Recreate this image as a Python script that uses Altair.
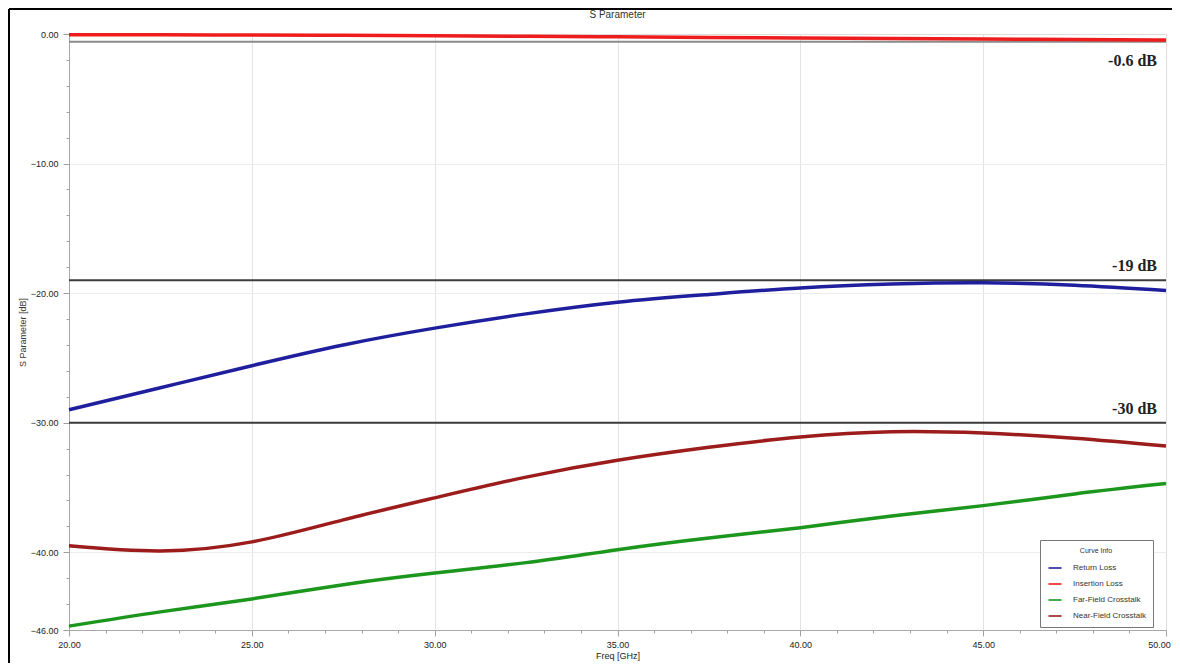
import altair as alt
import pandas as pd

# ---- data ----
freq = [20, 22.5, 25, 27.5, 30, 32.5, 35, 37.5, 40, 42.5, 45, 47.5, 50]
return_loss = [-29.0, -27.3, -25.6, -24.0, -22.7, -21.6, -20.7, -20.1, -19.6, -19.3, -19.2, -19.4, -19.8]
insertion_loss = [-0.05, -0.06, -0.08, -0.10, -0.14, -0.18, -0.22, -0.27, -0.31, -0.35, -0.39, -0.43, -0.47]
far_field = [-45.7, -44.6, -43.6, -42.5, -41.6, -40.8, -39.8, -38.9, -38.1, -37.2, -36.4, -35.5, -34.7]
near_field = [-39.5, -39.9, -39.2, -37.5, -35.8, -34.2, -32.9, -31.9, -31.1, -30.7, -30.8, -31.2, -31.8]

series_names = ["Return Loss", "Insertion Loss", "Far-Field Crosstalk", "Near-Field Crosstalk"]
series_colors = ["#1f1f9e", "#ee1c1c", "#1c961c", "#9c1c1c"]

limit_values = [-0.6, -19, -30]
limit_labels = ["-0.6 dB", "-19 dB", "-30 dB"]

chart_title = ["S Parameter"]

x_ticks = list(range(20, 51))
y_ticks = list(range(0, -47, -2))

rows = []
for name, vals in zip(series_names, [return_loss, insertion_loss, far_field, near_field]):
    for f, v in zip(freq, vals):
        rows.append({"freq": f, "value": v, "curve": name})
df = pd.DataFrame(rows)
limits = pd.DataFrame({"v": limit_values, "label": limit_labels, "fx": [50] * 3})
title_df = pd.DataFrame({"t": chart_title})

W, H = 1097, 596

x_scale = alt.Scale(domain=[20, 50], nice=False, zero=False)
y_scale = alt.Scale(domain=[-46, 0], nice=False, zero=False)

x_axis = alt.Axis(
    values=x_ticks,
    title="Freq [GHz]",
    labelExpr="datum.value % 5 === 0 ? format(datum.value, '.2f') : ''",
    labelOffset={"condition": {"test": "datum.value === 50", "value": -7}, "value": 0},
    tickSize={"condition": {"test": "datum.value % 5 === 0", "value": 6}, "value": 3},
    gridColor={"condition": {"test": "datum.value % 5 === 0 && datum.value > 20 && datum.value < 50", "value": "#e3e3e3"}, "value": "transparent"},
    grid=True,
    labelFont="Liberation Sans", labelFontSize=9, labelColor="#222", labelPadding=4,
    labelFlush=False,
    domainColor="#a8a8a8", tickColor="#a0a0a0",
    titleFont="Liberation Sans", titleFontSize=9, titleFontWeight="normal", titleColor="#222",
    titleY=25, titleBaseline="middle",
)
y_axis = alt.Axis(
    values=y_ticks,
    title="S Parameter [dB]",
    labelExpr="(datum.value % 10 === 0 || datum.value === -46) ? format(datum.value, '.2f') : ''",
    tickSize={"condition": {"test": "datum.value % 10 === 0 || datum.value === -46", "value": 6}, "value": 3},
    gridColor={"condition": {"test": "datum.value % 10 === 0 && datum.value < 0 && datum.value > -46", "value": "#ececec"}, "value": "transparent"},
    grid=True,
    labelFont="Liberation Sans", labelFontSize=9, labelColor="#222", labelPadding=5,
    labelFlush=False,
    domainColor="#a8a8a8", tickColor="#a0a0a0",
    titleFont="Liberation Sans", titleFontSize=9, titleFontWeight="normal", titleColor="#333",
    titleX=-47, titleY=H / 2, titleAngle=270, titleAlign="center", titleBaseline="middle",
)

base_x = alt.X("freq:Q", scale=x_scale, axis=x_axis)

rules = alt.Chart(limits).mark_rule(strokeWidth=2).encode(
    y=alt.Y("v:Q", scale=y_scale, axis=y_axis),
    color=alt.condition("datum.v > -1", alt.value("#8a8a8a"), alt.value("#3c3c3c")),
)

lines = alt.Chart(df).mark_line(strokeWidth=3.5, interpolate="natural").encode(
    x=base_x,
    y=alt.Y("value:Q", scale=y_scale, axis=y_axis),
    color=alt.Color(
        "curve:N",
        scale=alt.Scale(domain=series_names, range=series_colors),
        sort=series_names,
        legend=alt.Legend(
            title="Curve Info",
            orient="none",
            legendX=971,
            legendY=506,
            direction="vertical",
            symbolType="stroke",
            symbolSize=170,
            symbolStrokeWidth=2,
            symbolOpacity=0.8,
            labelFont="Liberation Sans",
            labelFontSize=8,
            labelColor="#333",
            titleFont="Liberation Sans",
            titleFontSize=7,
            titleFontWeight="normal",
            titleColor="#333",
            titleAnchor="middle",
            titlePadding=6,
            rowPadding=4,
            padding=7,
            strokeColor="#777",
            fillColor="white",
            labelOffset=10,
        ),
    ),
    detail="curve:N",
)

text_below = alt.Chart(limits).transform_filter("datum.v > -1").mark_text(
    align="right", baseline="top", dx=-9, dy=11,
    font="Liberation Serif", fontSize=16, fontWeight="bold", color="#222",
).encode(
    x=alt.X("fx:Q", scale=x_scale, axis=x_axis),
    y=alt.Y("v:Q", scale=y_scale, axis=y_axis),
    text="label:N",
)

text_above = alt.Chart(limits).transform_filter("datum.v < -1").mark_text(
    align="right", baseline="bottom", dx=-9, dy=-6,
    font="Liberation Serif", fontSize=16, fontWeight="bold", color="#222",
).encode(
    x=alt.X("fx:Q", scale=x_scale, axis=x_axis),
    y=alt.Y("v:Q", scale=y_scale, axis=y_axis),
    text="label:N",
)

title_text = alt.Chart(title_df).mark_text(
    align="center", baseline="middle",
    font="Liberation Sans", fontSize=10, color="#333",
).encode(
    x=alt.value(W / 2), y=alt.value(-19), text="t:N"
)

# decorative outer frame (left and top edges of the screenshot border)
frame_left = alt.Chart(title_df).mark_rule(color="black", strokeWidth=2).encode(
    x=alt.value(-60), y=alt.value(-25), y2=alt.value(H + 40)
)
frame_top = alt.Chart(title_df).mark_rule(color="black", strokeWidth=2).encode(
    x=alt.value(-60), x2=alt.value(W + 20), y=alt.value(-25)
)

chart = alt.layer(
    rules, lines, text_below, text_above, title_text, frame_left, frame_top
).properties(
    width=W,
    height=H,
    autosize=alt.AutoSizeParams(type="none"),
    padding={"left": 61, "top": 26, "right": 6, "bottom": 33},
).configure_view(
    stroke="#9a9a9a", strokeWidth=1.5
).configure(
    background="white"
)

chart.save("out.html", embed_options={"renderer": "svg", "actions": False})
